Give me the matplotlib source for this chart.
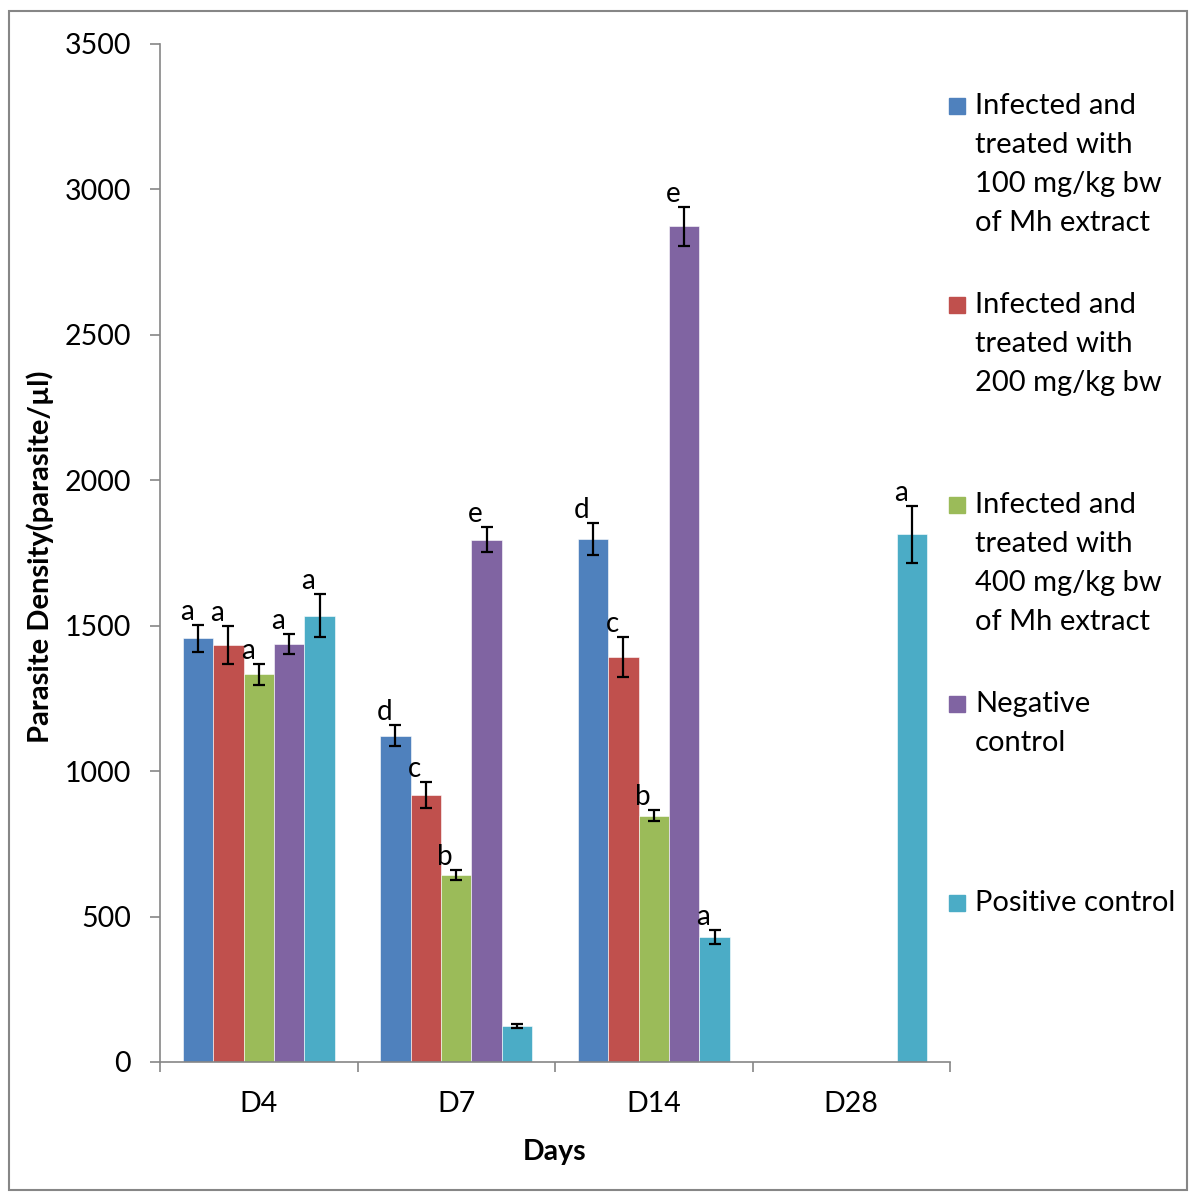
import matplotlib.pyplot as plt
import numpy as np
from matplotlib.patches import Rectangle

plt.rcParams['font.family'] = ['Lato', 'DejaVu Sans']

# data
days = ['D4', 'D7', 'D14', 'D28']
series = [
    'Infected and\ntreated with\n100 mg/kg bw\nof Mh extract',
    'Infected and\ntreated with\n200 mg/kg bw',
    'Infected and\ntreated with\n400 mg/kg bw\nof Mh extract',
    'Negative\ncontrol',
    'Positive control',
]
colors = ['#4F81BD', '#C0504D', '#9BBB59', '#8064A2', '#4BACC6']

mh100 = [1457, 1121, 1798, np.nan]
mh200 = [1434, 918, 1392, np.nan]
mh400 = [1333, 644, 847, np.nan]
neg_ctrl = [1436, 1795, 2873, np.nan]
pos_ctrl = [1535, 124, 430, 1814]

mh100_err = [46, 36, 54, np.nan]
mh200_err = [65, 44, 69, np.nan]
mh400_err = [37, 17, 20, np.nan]
neg_ctrl_err = [34, 43, 66, np.nan]
pos_ctrl_err = [73, 6, 23, 97]

mh100_lbl = ['a', 'd', 'd', '']
mh200_lbl = ['a', 'c', 'c', '']
mh400_lbl = ['a', 'b', 'b', '']
neg_ctrl_lbl = ['a', 'e', 'e', '']
pos_ctrl_lbl = ['a', '', 'a', 'a']

values = [mh100, mh200, mh400, neg_ctrl, pos_ctrl]
errors = [mh100_err, mh200_err, mh400_err, neg_ctrl_err, pos_ctrl_err]
letters = [mh100_lbl, mh200_lbl, mh400_lbl, neg_ctrl_lbl, pos_ctrl_lbl]

fig = plt.figure(figsize=(11.89, 11.93), dpi=100)
ax = fig.add_axes([160/1189, 1 - 1062/1193, 790/1189, 1018/1193])

x = np.arange(len(days))
w = 1 / 6.5
for i in range(5):
    pos = x + (i - 2) * w
    ax.bar(pos, values[i], w, color=colors[i], edgecolor='white', linewidth=0.4)
    ax.errorbar(pos, values[i], yerr=errors[i], fmt='none', ecolor='black',
                elinewidth=1.6, capsize=4.5, capthick=1.6)
    for j in range(len(days)):
        if letters[i][j]:
            ax.annotate(letters[i][j], (pos[j], values[i][j] + errors[i][j]),
                        xytext=(-8, 0), textcoords='offset points',
                        ha='center', va='bottom', fontsize=20)

ax.set_xlim(-0.5, 3.5)
ax.set_ylim(0, 3500)
ax.set_yticks(range(0, 3501, 500))
ax.set_xticks(x)
ax.set_xticklabels(days)
ax.set_xticks(np.arange(-0.5, 4, 1), minor=True)
ax.tick_params(axis='x', which='major', length=0, pad=21, labelsize=20.5)
ax.tick_params(axis='x', which='minor', length=7, direction='out', color='#868686', width=1.2)
ax.tick_params(axis='y', length=7, direction='out', color='#868686', width=1.2, pad=14, labelsize=20.5)
for s in ['top', 'right']:
    ax.spines[s].set_visible(False)
for s in ['left', 'bottom']:
    ax.spines[s].set_color('#868686')
    ax.spines[s].set_linewidth(1.2)

fig.text(555/1189, 1 - 1152/1193, 'Days', ha='center', va='center',
         fontsize=20.5, fontweight='bold')
fig.text(40/1189, 1 - 557/1193, 'Parasite Density(parasite/µl)', ha='center',
         va='center', rotation=90, fontsize=21, fontweight='bold')

# legend drawn by hand to keep Excel's even spacing
entry_y = [106, 305, 505, 704, 903]
for i, lab in enumerate(series):
    y0 = entry_y[i]
    fig.patches.append(Rectangle((949/1189, 1 - (y0 + 8)/1193), 16/1189, 16/1193,
                                 transform=fig.transFigure, color=colors[i]))
    for k, line in enumerate(lab.split('\n')):
        fig.text(975/1189, 1 - (y0 + 39*k)/1193, line, ha='left', va='center', fontsize=21)

fig.patches.append(Rectangle((9/1189, 3/1193), 1178/1189, 1 - 14/1193,
                             transform=fig.transFigure, fill=False,
                             edgecolor='#868686', linewidth=1.5))

fig.savefig('out.png', dpi=100)
